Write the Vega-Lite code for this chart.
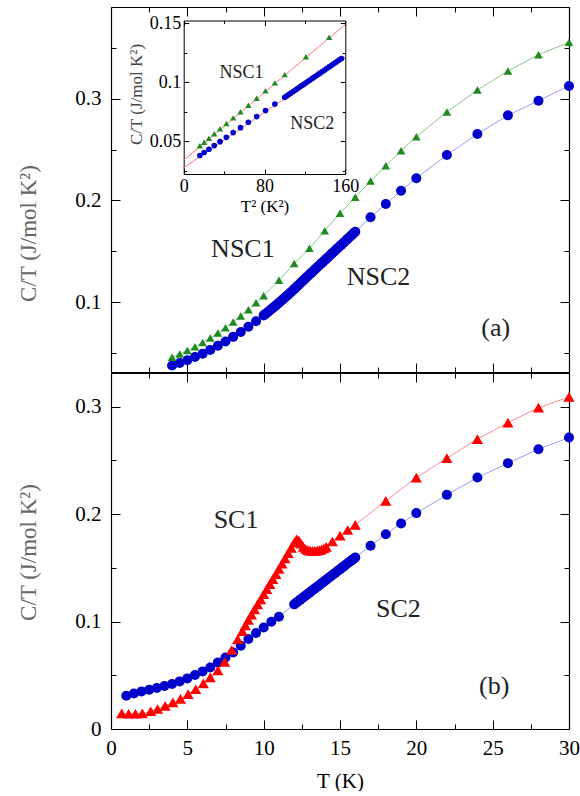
{
  "$schema": "https://vega.github.io/schema/vega-lite/v6.json",
  "background": "white",
  "padding": {"left": 17, "top": 6, "right": 0, "bottom": 0},
  "spacing": -1,
  "config": {
    "view": {"stroke": null},
    "font": "Liberation Serif",
    "axis": {"grid": false, "domainColor": "black", "domainWidth": 1.2, "tickColor": "black", "tickWidth": 1, "labelColor": "black", "labelFont": "Liberation Serif", "titleFont": "Liberation Serif", "titleFontWeight": "normal", "labelFlush": false, "labelOverlap": false},
    "text": {"font": "Liberation Serif"}
  },
  "datasets": {
    "a": [
      {"s":"NSC1","T":4,"C":0.0461},{"s":"NSC1","T":4.5,"C":0.0492},{"s":"NSC1","T":5,"C":0.0526},{"s":"NSC1","T":5.5,"C":0.0563},{"s":"NSC1","T":6,"C":0.0605},{"s":"NSC1","T":6.5,"C":0.065},{"s":"NSC1","T":7,"C":0.0698},{"s":"NSC1","T":7.5,"C":0.075},{"s":"NSC1","T":8,"C":0.0806},{"s":"NSC1","T":8.5,"C":0.0865},{"s":"NSC1","T":9,"C":0.0928},{"s":"NSC1","T":9.5,"C":0.0995},{"s":"NSC1","T":10,"C":0.1065},{"s":"NSC1","T":11,"C":0.1216},{"s":"NSC1","T":12,"C":0.1381},{"s":"NSC1","T":13,"C":0.153},{"s":"NSC1","T":14,"C":0.1704},{"s":"NSC1","T":15,"C":0.1874},{"s":"NSC1","T":16,"C":0.2031},{"s":"NSC1","T":17,"C":0.2191},{"s":"NSC1","T":18,"C":0.2342},{"s":"NSC1","T":19,"C":0.2489},{"s":"NSC1","T":20,"C":0.2626},{"s":"NSC1","T":22,"C":0.2869},{"s":"NSC1","T":24,"C":0.3085},{"s":"NSC1","T":26,"C":0.3271},{"s":"NSC1","T":28,"C":0.3431},{"s":"NSC1","T":30,"C":0.3553},
      {"s":"NSC2","T":4,"C":0.0379},{"s":"NSC2","T":4.5,"C":0.0404},{"s":"NSC2","T":5,"C":0.0432},{"s":"NSC2","T":5.5,"C":0.0463},{"s":"NSC2","T":6,"C":0.0496},{"s":"NSC2","T":6.5,"C":0.0533},{"s":"NSC2","T":7,"C":0.0573},{"s":"NSC2","T":7.5,"C":0.0615},{"s":"NSC2","T":8,"C":0.0661},{"s":"NSC2","T":8.5,"C":0.0709},{"s":"NSC2","T":9,"C":0.076},{"s":"NSC2","T":9.5,"C":0.0815},
      {"s":"NSC2","T":10,"C":0.0872},{"s":"NSC2","T":10.1,"C":0.0884},{"s":"NSC2","T":10.2,"C":0.0896},{"s":"NSC2","T":10.3,"C":0.0908},{"s":"NSC2","T":10.4,"C":0.092},{"s":"NSC2","T":10.5,"C":0.0932},{"s":"NSC2","T":10.6,"C":0.0945},{"s":"NSC2","T":10.7,"C":0.0957},{"s":"NSC2","T":10.8,"C":0.097},{"s":"NSC2","T":10.9,"C":0.0982},{"s":"NSC2","T":11,"C":0.0995},{"s":"NSC2","T":11.1,"C":0.1008},{"s":"NSC2","T":11.2,"C":0.1021},{"s":"NSC2","T":11.3,"C":0.1035},{"s":"NSC2","T":11.4,"C":0.1048},{"s":"NSC2","T":11.5,"C":0.1061},{"s":"NSC2","T":11.6,"C":0.1075},{"s":"NSC2","T":11.7,"C":0.1089},{"s":"NSC2","T":11.8,"C":0.1102},{"s":"NSC2","T":11.9,"C":0.1116},{"s":"NSC2","T":12,"C":0.113},{"s":"NSC2","T":12.1,"C":0.1144},{"s":"NSC2","T":12.2,"C":0.1159},{"s":"NSC2","T":12.3,"C":0.1173},{"s":"NSC2","T":12.4,"C":0.1188},{"s":"NSC2","T":12.5,"C":0.1202},{"s":"NSC2","T":12.6,"C":0.1216},{"s":"NSC2","T":12.7,"C":0.123},{"s":"NSC2","T":12.8,"C":0.1245},{"s":"NSC2","T":12.9,"C":0.1259},{"s":"NSC2","T":13,"C":0.1273},{"s":"NSC2","T":13.1,"C":0.1287},{"s":"NSC2","T":13.2,"C":0.1301},{"s":"NSC2","T":13.3,"C":0.1315},{"s":"NSC2","T":13.4,"C":0.1329},{"s":"NSC2","T":13.5,"C":0.1343},{"s":"NSC2","T":13.6,"C":0.1357},{"s":"NSC2","T":13.7,"C":0.1371},{"s":"NSC2","T":13.8,"C":0.1385},{"s":"NSC2","T":13.9,"C":0.1399},{"s":"NSC2","T":14,"C":0.1413},{"s":"NSC2","T":14.1,"C":0.1427},{"s":"NSC2","T":14.2,"C":0.1441},{"s":"NSC2","T":14.3,"C":0.1455},{"s":"NSC2","T":14.4,"C":0.1469},{"s":"NSC2","T":14.5,"C":0.1483},{"s":"NSC2","T":14.6,"C":0.1497},{"s":"NSC2","T":14.7,"C":0.1511},{"s":"NSC2","T":14.8,"C":0.1525},{"s":"NSC2","T":14.9,"C":0.1539},{"s":"NSC2","T":15,"C":0.1553},{"s":"NSC2","T":15.1,"C":0.1567},{"s":"NSC2","T":15.2,"C":0.1581},{"s":"NSC2","T":15.3,"C":0.1595},{"s":"NSC2","T":15.4,"C":0.1609},{"s":"NSC2","T":15.5,"C":0.1623},{"s":"NSC2","T":15.6,"C":0.1637},{"s":"NSC2","T":15.7,"C":0.1651},{"s":"NSC2","T":15.8,"C":0.1665},{"s":"NSC2","T":15.9,"C":0.1679},{"s":"NSC2","T":16,"C":0.1694},
      {"s":"NSC2","T":17,"C":0.1835},{"s":"NSC2","T":18,"C":0.1966},{"s":"NSC2","T":19,"C":0.2096},{"s":"NSC2","T":20,"C":0.2218},{"s":"NSC2","T":22,"C":0.2447},{"s":"NSC2","T":24,"C":0.2653},{"s":"NSC2","T":26,"C":0.2836},{"s":"NSC2","T":28,"C":0.298},{"s":"NSC2","T":30,"C":0.3124}
    ],
    "ins": [
      {"s":"NSC1","T2":16,"C":0.0461},{"s":"NSC1","T2":20.25,"C":0.0492},{"s":"NSC1","T2":25,"C":0.0526},{"s":"NSC1","T2":30.25,"C":0.0563},{"s":"NSC1","T2":36,"C":0.0605},{"s":"NSC1","T2":42.25,"C":0.065},{"s":"NSC1","T2":49,"C":0.0698},{"s":"NSC1","T2":56.25,"C":0.075},{"s":"NSC1","T2":64,"C":0.0806},{"s":"NSC1","T2":72.25,"C":0.0865},{"s":"NSC1","T2":81,"C":0.0928},{"s":"NSC1","T2":90.25,"C":0.0995},{"s":"NSC1","T2":100,"C":0.1065},{"s":"NSC1","T2":121,"C":0.1216},{"s":"NSC1","T2":144,"C":0.1381},
      {"s":"NSC2","T2":16,"C":0.0379},{"s":"NSC2","T2":20.25,"C":0.0404},{"s":"NSC2","T2":25,"C":0.0432},{"s":"NSC2","T2":30.25,"C":0.0463},{"s":"NSC2","T2":36,"C":0.0496},{"s":"NSC2","T2":42.25,"C":0.0533},{"s":"NSC2","T2":49,"C":0.0573},{"s":"NSC2","T2":56.25,"C":0.0615},{"s":"NSC2","T2":64,"C":0.0661},{"s":"NSC2","T2":72.25,"C":0.0709},{"s":"NSC2","T2":81,"C":0.076},{"s":"NSC2","T2":90.25,"C":0.0815},{"s":"NSC2","T2":100,"C":0.0872},{"s":"NSC2","T2":102.01,"C":0.0884},{"s":"NSC2","T2":104.04,"C":0.0896},{"s":"NSC2","T2":106.09,"C":0.0908},{"s":"NSC2","T2":108.16,"C":0.092},{"s":"NSC2","T2":110.25,"C":0.0932},{"s":"NSC2","T2":112.36,"C":0.0945},{"s":"NSC2","T2":114.49,"C":0.0957},{"s":"NSC2","T2":116.64,"C":0.097},{"s":"NSC2","T2":118.81,"C":0.0982},{"s":"NSC2","T2":121,"C":0.0995},{"s":"NSC2","T2":123.21,"C":0.1008},{"s":"NSC2","T2":125.44,"C":0.1021},{"s":"NSC2","T2":127.69,"C":0.1035},{"s":"NSC2","T2":129.96,"C":0.1048},{"s":"NSC2","T2":132.25,"C":0.1061},{"s":"NSC2","T2":134.56,"C":0.1075},{"s":"NSC2","T2":136.89,"C":0.1089},{"s":"NSC2","T2":139.24,"C":0.1102},{"s":"NSC2","T2":141.61,"C":0.1116},{"s":"NSC2","T2":144,"C":0.113},{"s":"NSC2","T2":146.41,"C":0.1144},{"s":"NSC2","T2":148.84,"C":0.1159},{"s":"NSC2","T2":151.29,"C":0.1173},{"s":"NSC2","T2":153.76,"C":0.1188},{"s":"NSC2","T2":156.25,"C":0.1202}
    ],
    "fit": [
      {"s":"NSC1","T2":0,"C":0.034},{"s":"NSC1","T2":160,"C":0.149},
      {"s":"NSC2","T2":0,"C":0.0275},{"s":"NSC2","T2":160,"C":0.1214}
    ],
    "b": [
      {"s":"SC1","T":0.7,"C":0.0145},{"s":"SC1","T":1.15,"C":0.0142},{"s":"SC1","T":1.6,"C":0.0142},{"s":"SC1","T":2.05,"C":0.0145},{"s":"SC1","T":2.6,"C":0.0165},{"s":"SC1","T":3.05,"C":0.0186},{"s":"SC1","T":3.55,"C":0.0216},{"s":"SC1","T":4.05,"C":0.0248},{"s":"SC1","T":4.55,"C":0.028},{"s":"SC1","T":5.05,"C":0.0325},{"s":"SC1","T":5.55,"C":0.037},{"s":"SC1","T":6.05,"C":0.0424},{"s":"SC1","T":6.5,"C":0.048},{"s":"SC1","T":7,"C":0.0545},{"s":"SC1","T":7.45,"C":0.0625},{"s":"SC1","T":7.9,"C":0.0735},{"s":"SC1","T":8.3,"C":0.0835},{"s":"SC1","T":8.6,"C":0.091},
      {"s":"SC1","T":8.8,"C":0.0965},{"s":"SC1","T":9,"C":0.1015},{"s":"SC1","T":9.2,"C":0.1065},{"s":"SC1","T":9.4,"C":0.1113},{"s":"SC1","T":9.6,"C":0.116},{"s":"SC1","T":9.8,"C":0.1207},{"s":"SC1","T":10,"C":0.1254},{"s":"SC1","T":10.2,"C":0.1301},{"s":"SC1","T":10.4,"C":0.1348},{"s":"SC1","T":10.6,"C":0.1395},{"s":"SC1","T":10.8,"C":0.1442},{"s":"SC1","T":11,"C":0.149},{"s":"SC1","T":11.2,"C":0.1538},{"s":"SC1","T":11.4,"C":0.1587},{"s":"SC1","T":11.6,"C":0.1636},{"s":"SC1","T":11.8,"C":0.1685},{"s":"SC1","T":12,"C":0.1735},{"s":"SC1","T":12.15,"C":0.1765},{"s":"SC1","T":12.3,"C":0.1755},{"s":"SC1","T":12.45,"C":0.1725},{"s":"SC1","T":12.6,"C":0.1695},{"s":"SC1","T":12.75,"C":0.1675},{"s":"SC1","T":12.9,"C":0.1665},{"s":"SC1","T":13.05,"C":0.166},{"s":"SC1","T":13.2,"C":0.1658},{"s":"SC1","T":13.35,"C":0.1658},{"s":"SC1","T":13.5,"C":0.166},{"s":"SC1","T":13.65,"C":0.1665},{"s":"SC1","T":13.8,"C":0.1672},{"s":"SC1","T":13.95,"C":0.1682},{"s":"SC1","T":14.1,"C":0.1695},{"s":"SC1","T":14.5,"C":0.1745},{"s":"SC1","T":15,"C":0.18},{"s":"SC1","T":15.5,"C":0.1852},{"s":"SC1","T":16,"C":0.19},{"s":"SC1","T":18,"C":0.2123},{"s":"SC1","T":20,"C":0.234},{"s":"SC1","T":22,"C":0.252},{"s":"SC1","T":24,"C":0.2697},{"s":"SC1","T":26,"C":0.2851},{"s":"SC1","T":28,"C":0.299},{"s":"SC1","T":30,"C":0.309},
      {"s":"SC2","T":1,"C":0.031},{"s":"SC2","T":1.5,"C":0.0331},{"s":"SC2","T":2,"C":0.035},{"s":"SC2","T":2.5,"C":0.0366},{"s":"SC2","T":3,"C":0.0381},{"s":"SC2","T":3.5,"C":0.04},{"s":"SC2","T":4,"C":0.0418},{"s":"SC2","T":4.5,"C":0.0443},{"s":"SC2","T":5,"C":0.0471},{"s":"SC2","T":5.5,"C":0.0502},{"s":"SC2","T":6,"C":0.0536},{"s":"SC2","T":6.5,"C":0.0573},{"s":"SC2","T":7,"C":0.062},{"s":"SC2","T":7.5,"C":0.0666},{"s":"SC2","T":8,"C":0.0712},{"s":"SC2","T":8.5,"C":0.0775},{"s":"SC2","T":9,"C":0.0838},{"s":"SC2","T":9.5,"C":0.0893},{"s":"SC2","T":10,"C":0.0945},{"s":"SC2","T":10.5,"C":0.0998},{"s":"SC2","T":11,"C":0.1045},
      {"s":"SC2","T":12,"C":0.116},{"s":"SC2","T":12.1,"C":0.1171},{"s":"SC2","T":12.2,"C":0.1182},{"s":"SC2","T":12.3,"C":0.1193},{"s":"SC2","T":12.4,"C":0.1204},{"s":"SC2","T":12.5,"C":0.1215},{"s":"SC2","T":12.6,"C":0.1225},{"s":"SC2","T":12.7,"C":0.1236},{"s":"SC2","T":12.8,"C":0.1247},{"s":"SC2","T":12.9,"C":0.1258},{"s":"SC2","T":13,"C":0.1269},{"s":"SC2","T":13.1,"C":0.128},{"s":"SC2","T":13.2,"C":0.1291},{"s":"SC2","T":13.3,"C":0.1302},{"s":"SC2","T":13.4,"C":0.1313},{"s":"SC2","T":13.5,"C":0.1324},{"s":"SC2","T":13.6,"C":0.1334},{"s":"SC2","T":13.7,"C":0.1345},{"s":"SC2","T":13.8,"C":0.1356},{"s":"SC2","T":13.9,"C":0.1367},{"s":"SC2","T":14,"C":0.1378},{"s":"SC2","T":14.1,"C":0.1389},{"s":"SC2","T":14.2,"C":0.14},{"s":"SC2","T":14.3,"C":0.1411},{"s":"SC2","T":14.4,"C":0.1422},{"s":"SC2","T":14.5,"C":0.1433},{"s":"SC2","T":14.6,"C":0.1443},{"s":"SC2","T":14.7,"C":0.1454},{"s":"SC2","T":14.8,"C":0.1465},{"s":"SC2","T":14.9,"C":0.1476},{"s":"SC2","T":15,"C":0.1487},{"s":"SC2","T":15.1,"C":0.1498},{"s":"SC2","T":15.2,"C":0.1509},{"s":"SC2","T":15.3,"C":0.152},{"s":"SC2","T":15.4,"C":0.1531},{"s":"SC2","T":15.5,"C":0.1542},{"s":"SC2","T":15.6,"C":0.1552},{"s":"SC2","T":15.7,"C":0.1563},{"s":"SC2","T":15.8,"C":0.1574},{"s":"SC2","T":15.9,"C":0.1585},{"s":"SC2","T":16,"C":0.1596},
      {"s":"SC2","T":17,"C":0.1705},{"s":"SC2","T":18,"C":0.1813},{"s":"SC2","T":19,"C":0.1912},{"s":"SC2","T":20,"C":0.2009},{"s":"SC2","T":22,"C":0.2179},{"s":"SC2","T":24,"C":0.234},{"s":"SC2","T":26,"C":0.2474},{"s":"SC2","T":28,"C":0.2604},{"s":"SC2","T":30,"C":0.2712}
    ]
  },
  "vconcat": [
    {
      "width": 458,
      "height": 365,
      "layer": [
        {
          "data": {"name": "a"},
          "layer": [
            {
              "transform": [{"filter": "datum.s == 'NSC1'"}],
              "mark": {"type": "line", "color": "#8cc68c", "strokeWidth": 1},
              "encoding": {
                "x": {"field": "T", "type": "quantitative", "scale": {"domain": [0, 30], "nice": false, "zero": false},
                  "axis": {"orient": "bottom", "values": [0,2.5,5,7.5,10,12.5,15,17.5,20,22.5,25,27.5,30], "labels": false, "title": null,
                    "tickSize": {"condition": {"test": "datum.value % 5 == 0", "value": -9}, "value": -5}}},
                "y": {"field": "C", "type": "quantitative", "scale": {"domain": [0.0316, 0.39], "nice": false, "zero": false},
                  "axis": {"orient": "left", "values": [0.05,0.1,0.15,0.2,0.25,0.3,0.35],
                    "labelExpr": "abs(datum.value * 10 - round(datum.value * 10)) < 0.001 ? format(datum.value, '.1~f') : ''",
                    "labelFontSize": 21, "labelPadding": 19,
                    "tickSize": {"condition": {"test": "abs(datum.value * 10 - round(datum.value * 10)) < 0.001", "value": -9}, "value": -5},
                    "title": "C/T (J/mol K²)", "titleFontSize": 23, "titleColor": "#666666", "titleX": -83, "titleY": 226, "titleBaseline": "middle", "titleAngle": -90}}
              }
            },
            {
              "transform": [{"filter": "datum.s == 'NSC2'"}],
              "mark": {"type": "line", "color": "#9c9cf2", "strokeWidth": 1},
              "encoding": {
                "x": {"field": "T", "type": "quantitative",
                  "axis": {"orient": "top", "values": [0,2.5,5,7.5,10,12.5,15,17.5,20,22.5,25,27.5,30], "labels": false, "title": null,
                    "tickSize": {"condition": {"test": "datum.value % 5 == 0", "value": -9}, "value": -5}}},
                "y": {"field": "C", "type": "quantitative",
                  "axis": {"orient": "right", "values": [0.05,0.1,0.15,0.2,0.25,0.3,0.35], "labels": false, "title": null,
                    "tickSize": {"condition": {"test": "abs(datum.value * 10 - round(datum.value * 10)) < 0.001", "value": -9}, "value": -5}}}
              }
            },
            {
              "transform": [{"filter": "datum.s == 'NSC2'"}],
              "mark": {"type": "point", "shape": "circle", "filled": true, "color": "#0000cc", "opacity": 1, "size": 100},
              "encoding": {
                "x": {"field": "T", "type": "quantitative", "axis": null},
                "y": {"field": "C", "type": "quantitative", "axis": null}
              }
            },
            {
              "transform": [{"filter": "datum.s == 'NSC1'"}],
              "mark": {"type": "point", "shape": "triangle-up", "filled": true, "color": "#1f8a1f", "opacity": 1, "size": 75},
              "encoding": {
                "x": {"field": "T", "type": "quantitative", "axis": null},
                "y": {"field": "C", "type": "quantitative", "axis": null}
              }
            },
            {
              "data": {"values": [{}]},
              "mark": {"type": "text", "text": "NSC1", "fontSize": 26, "align": "center", "baseline": "middle", "color": "#222222"},
              "encoding": {"x": {"datum": 8.64, "type": "quantitative", "axis": null}, "y": {"datum": 0.1524, "type": "quantitative", "axis": null}}
            },
            {
              "data": {"values": [{}]},
              "mark": {"type": "text", "text": "NSC2", "fontSize": 26, "align": "center", "baseline": "middle", "color": "#222222"},
              "encoding": {"x": {"datum": 17.52, "type": "quantitative", "axis": null}, "y": {"datum": 0.1244, "type": "quantitative", "axis": null}}
            },
            {
              "data": {"values": [{}]},
              "mark": {"type": "text", "text": "(a)", "fontSize": 26, "align": "center", "baseline": "middle", "color": "#222222"},
              "encoding": {"x": {"datum": 25.2, "type": "quantitative", "axis": null}, "y": {"datum": 0.0748, "type": "quantitative", "axis": null}}
            }
          ],
          "resolve": {"axis": {"x": "independent", "y": "independent"}}
        },
        {
          "data": {"name": "ins"},
          "layer": [
            {
              "data": {"name": "fit"},
              "mark": {"type": "line", "color": "#ff7777", "strokeWidth": 1},
              "encoding": {
                "detail": {"field": "s"},
                "x": {"field": "T2", "type": "quantitative", "scale": {"domain": [0, 160], "range": [72.7, 234.3], "nice": false, "zero": false},
                  "axis": {"orient": "bottom", "offset": -198, "values": [0,40,80,120,160], "domainWidth": 1,
                    "labelExpr": "datum.value % 80 == 0 ? format(datum.value, 'd') : ''", "labelFontSize": 18, "labelPadding": 8,
                    "tickSize": {"condition": {"test": "datum.value % 80 == 0", "value": -5}, "value": -3},
                    "title": "T² (K²)", "titleFontSize": 17, "titleY": 32, "titleBaseline": "middle"}},
                "y": {"field": "C", "type": "quantitative", "scale": {"domain": [0.0222, 0.1524], "range": [167, 13.5], "nice": false, "zero": false},
                  "axis": {"orient": "left", "offset": -72.7, "values": [0.025,0.05,0.075,0.1,0.125,0.15], "domainWidth": 1,
                    "labelExpr": "abs(datum.value * 20 - round(datum.value * 20)) < 0.001 ? format(datum.value, '.2~f') : ''", "labelFontSize": 18, "labelPadding": 8,
                    "tickSize": {"condition": {"test": "abs(datum.value * 20 - round(datum.value * 20)) < 0.001", "value": -5}, "value": -3},
                    "title": "C/T (J/mol K²)", "titleFontSize": 17, "titleColor": "#444444", "titleX": -47.7, "titleY": 87, "titleBaseline": "middle", "titleAngle": -90}}
              }
            },
            {
              "transform": [{"filter": "datum.s == 'NSC1'"}],
              "mark": {"type": "point", "shape": "triangle-up", "filled": true, "color": "#1f8a1f", "opacity": 1, "size": 40},
              "encoding": {
                "x": {"field": "T2", "type": "quantitative",
                  "axis": {"orient": "top", "offset": -13.5, "values": [0,40,80,120,160], "labels": false, "title": null, "domainWidth": 1,
                    "tickSize": {"condition": {"test": "datum.value % 80 == 0", "value": -5}, "value": -3}}},
                "y": {"field": "C", "type": "quantitative",
                  "axis": {"orient": "right", "offset": -223.7, "values": [0.025,0.05,0.075,0.1,0.125,0.15], "labels": false, "title": null, "domainWidth": 1,
                    "tickSize": {"condition": {"test": "abs(datum.value * 20 - round(datum.value * 20)) < 0.001", "value": -5}, "value": -3}}}
              }
            },
            {
              "transform": [{"filter": "datum.s == 'NSC2'"}],
              "mark": {"type": "point", "shape": "circle", "filled": true, "color": "#0000cc", "opacity": 1, "size": 32},
              "encoding": {
                "x": {"field": "T2", "type": "quantitative", "axis": null},
                "y": {"field": "C", "type": "quantitative", "axis": null}
              }
            },
            {
              "data": {"values": [{}]},
              "mark": {"type": "text", "text": "NSC1", "fontSize": 18, "align": "center", "baseline": "middle", "color": "#222222"},
              "encoding": {"x": {"datum": 57.2, "type": "quantitative", "axis": null}, "y": {"datum": 0.1079, "type": "quantitative", "axis": null}}
            },
            {
              "data": {"values": [{}]},
              "mark": {"type": "text", "text": "NSC2", "fontSize": 18, "align": "center", "baseline": "middle", "color": "#222222"},
              "encoding": {"x": {"datum": 127.3, "type": "quantitative", "axis": null}, "y": {"datum": 0.0644, "type": "quantitative", "axis": null}}
            }
          ],
          "resolve": {"axis": {"x": "independent", "y": "independent"}}
        }
      ],
      "resolve": {"scale": {"x": "independent", "y": "independent"}}
    },
    {
      "width": 458,
      "height": 356,
      "data": {"name": "b"},
      "layer": [
        {
          "transform": [{"filter": "datum.s == 'SC1'"}],
          "mark": {"type": "line", "color": "#ff8a8a", "strokeWidth": 1},
          "encoding": {
            "x": {"field": "T", "type": "quantitative", "scale": {"domain": [0, 30], "nice": false, "zero": false},
              "axis": {"orient": "bottom", "values": [0,2.5,5,7.5,10,12.5,15,17.5,20,22.5,25,27.5,30],
                "labelExpr": "datum.value % 5 == 0 ? format(datum.value, 'd') : ''", "labelFontSize": 21, "labelPadding": 17,
                "tickSize": {"condition": {"test": "datum.value % 5 == 0", "value": -9}, "value": -5},
                "title": "T (K)", "titleFontSize": 21, "titleX": 229, "titleY": 52, "titleBaseline": "middle"}},
            "y": {"field": "C", "type": "quantitative", "scale": {"domain": [0, 0.3313], "nice": false, "zero": false},
              "axis": {"orient": "left", "values": [0,0.05,0.1,0.15,0.2,0.25,0.3],
                "labelExpr": "abs(datum.value * 10 - round(datum.value * 10)) < 0.001 ? format(datum.value, '.1~f') : ''",
                "labelFontSize": 21, "labelPadding": 19,
                "tickSize": {"condition": {"test": "abs(datum.value * 10 - round(datum.value * 10)) < 0.001", "value": -9}, "value": -5},
                "title": "C/T (J/mol K²)", "titleFontSize": 23, "titleColor": "#666666", "titleX": -83, "titleY": 179, "titleBaseline": "middle", "titleAngle": -90}}
          }
        },
        {
          "transform": [{"filter": "datum.s == 'SC2'"}],
          "mark": {"type": "line", "color": "#9c9cf2", "strokeWidth": 1},
          "encoding": {
            "x": {"field": "T", "type": "quantitative",
              "axis": {"orient": "top", "values": [0,2.5,5,7.5,10,12.5,15,17.5,20,22.5,25,27.5,30], "labels": false, "title": null,
                "tickSize": {"condition": {"test": "datum.value % 5 == 0", "value": -9}, "value": -5}}},
            "y": {"field": "C", "type": "quantitative",
              "axis": {"orient": "right", "values": [0,0.05,0.1,0.15,0.2,0.25,0.3], "labels": false, "title": null,
                "tickSize": {"condition": {"test": "abs(datum.value * 10 - round(datum.value * 10)) < 0.001", "value": -9}, "value": -5}}}
          }
        },
        {
          "transform": [{"filter": "datum.s == 'SC2'"}],
          "mark": {"type": "point", "shape": "circle", "filled": true, "color": "#0000cc", "opacity": 1, "size": 100},
          "encoding": {
            "x": {"field": "T", "type": "quantitative", "axis": null},
            "y": {"field": "C", "type": "quantitative", "axis": null}
          }
        },
        {
          "transform": [{"filter": "datum.s == 'SC1'"}],
          "mark": {"type": "point", "shape": "triangle-up", "filled": true, "color": "#ff0000", "opacity": 1, "size": 125},
          "encoding": {
            "x": {"field": "T", "type": "quantitative", "axis": null},
            "y": {"field": "C", "type": "quantitative", "axis": null}
          }
        },
        {
          "data": {"values": [{}]},
          "mark": {"type": "text", "text": "SC1", "fontSize": 26, "align": "center", "baseline": "middle", "color": "#222222"},
          "encoding": {"x": {"datum": 8.19, "type": "quantitative", "axis": null}, "y": {"datum": 0.1946, "type": "quantitative", "axis": null}}
        },
        {
          "data": {"values": [{}]},
          "mark": {"type": "text", "text": "SC2", "fontSize": 26, "align": "center", "baseline": "middle", "color": "#222222"},
          "encoding": {"x": {"datum": 18.83, "type": "quantitative", "axis": null}, "y": {"datum": 0.1114, "type": "quantitative", "axis": null}}
        },
        {
          "data": {"values": [{}]},
          "mark": {"type": "text", "text": "(b)", "fontSize": 26, "align": "center", "baseline": "middle", "color": "#222222"},
          "encoding": {"x": {"datum": 25.1, "type": "quantitative", "axis": null}, "y": {"datum": 0.0403, "type": "quantitative", "axis": null}}
        }
      ],
      "resolve": {"axis": {"x": "independent", "y": "independent"}}
    }
  ]
}
